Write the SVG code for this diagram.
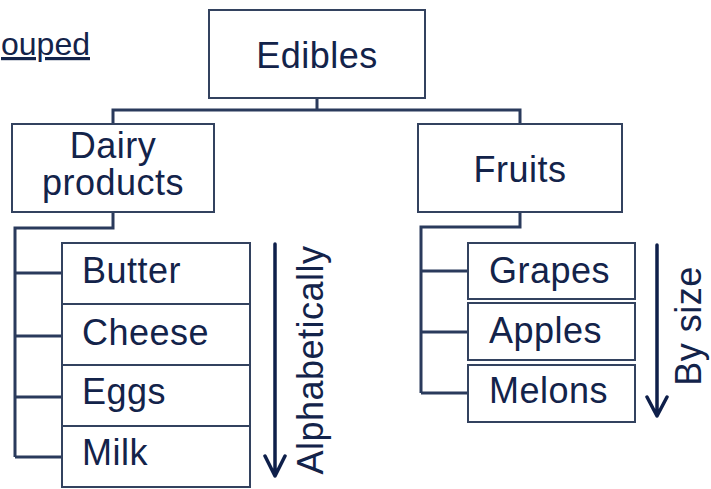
<svg xmlns="http://www.w3.org/2000/svg" width="711" height="489" viewBox="0 0 711 489">
<style>
.box{fill:#fff;stroke:#33425f;stroke-width:2}
.t{font-family:"Liberation Sans",Arial,sans-serif;font-size:36px;letter-spacing:0.5px;fill:#13234a}
.c{text-anchor:middle}
.ln{fill:none;stroke:#2a3a5c;stroke-width:3}
.ar{fill:none;stroke:#0e1f4a;stroke-width:3.5;stroke-linecap:round;stroke-linejoin:round}
</style>
<rect width="711" height="489" fill="#fff"/>
<text class="t" x="1" y="55" text-decoration="underline" style="font-size:32px;letter-spacing:0">ouped</text>
<g id="connectors">
<path class="ln" d="M317 98V110M113 124V110H520V124"/>
<path class="ln" d="M113 212V228H15V457M15 273H62M15 336H62M15 397H62M15 457H62"/>
<path class="ln" d="M520 212V227H421V393M421 271H468M421 332H468M421 393H468"/>
</g>
<g id="edibles"><rect class="box" x="209" y="10" width="216" height="88"/><text class="t c" x="317" y="68">Edibles</text></g>
<g id="dairy"><rect class="box" x="12" y="124" width="202" height="88"/><text class="t c" x="113" y="158">Dairy</text><text class="t c" x="113" y="195">products</text></g>
<g id="fruits"><rect class="box" x="418" y="124" width="204" height="88"/><text class="t c" x="520" y="182">Fruits</text></g>
<g id="butter"><rect class="box" x="62" y="243" width="188" height="61"/><text class="t" x="82" y="283">Butter</text></g>
<g id="cheese"><rect class="box" x="62" y="304" width="188" height="61"/><text class="t" x="82" y="345">Cheese</text></g>
<g id="eggs"><rect class="box" x="62" y="365" width="188" height="61"/><text class="t" x="82" y="404">Eggs</text></g>
<g id="milk"><rect class="box" x="62" y="426" width="188" height="61"/><text class="t" x="82" y="465">Milk</text></g>
<g id="grapes"><rect class="box" x="468" y="243" width="167" height="56"/><text class="t" x="489" y="283">Grapes</text></g>
<g id="apples"><rect class="box" x="468" y="303" width="167" height="57"/><text class="t" x="489" y="343">Apples</text></g>
<g id="melons"><rect class="box" x="468" y="365" width="167" height="57"/><text class="t" x="489" y="403">Melons</text></g>
<g id="alpha-arrow"><path class="ar" d="M275 244V476M265 456L275 476L285 456"/><text class="t c" transform="translate(323 360) rotate(-90)">Alphabetically</text></g>
<g id="size-arrow"><path class="ar" d="M657 245V416M647 397L657 416L667 397"/><text class="t c" transform="translate(701 326) rotate(-90)">By size</text></g>
</svg>
